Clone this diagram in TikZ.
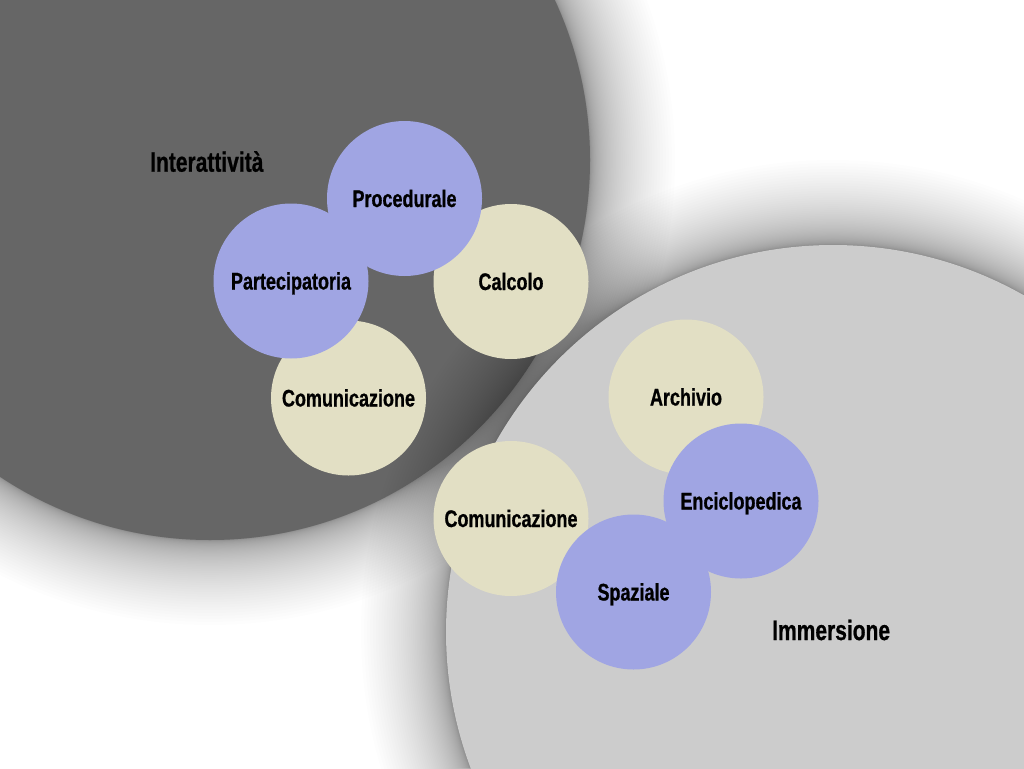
\documentclass[tikz,border=0pt]{standalone}
\usepackage{fontspec}
\setmainfont{Liberation Sans}[FakeStretch=0.76,BoldFeatures={FakeStretch=0.75,FakeBold=0.7}]
\definecolor{darkc}{HTML}{666666}
\definecolor{lightc}{HTML}{CCCCCC}
\definecolor{bluec}{HTML}{A0A5E3}
\definecolor{beigec}{HTML}{E2DFC4}
\tikzset{
  bubble/.style={circle, minimum size=155pt, inner sep=0pt,
    font=\bfseries\fontsize{24}{26}\selectfont, text height=17pt, text depth=0pt},
  bluebub/.style={bubble, fill=bluec},
  beigebub/.style={bubble, fill=beigec},
  heading/.style={font=\bfseries\fontsize{28}{32}\selectfont, anchor=base west, inner sep=0pt},
  shadowring/.style={fill=black, opacity=0.0088}
}
\begin{document}
\begin{tikzpicture}[x=1pt,y=-1pt]
\useasboundingbox (0,0) rectangle (1024,768);
\fill[white] (0,0) rectangle (1024,768);
\begin{scope}
  \clip (0,0) rectangle (1024,768);
  % dark circle with soft shadow
  \foreach \i in {1,...,60} {
    \pgfmathsetmacro{\rr}{380+85*(\i/60)^2.2}
    \fill[shadowring] (210,160) circle[radius=\rr pt];
  }
  \fill[darkc] (210,160) circle[radius=380pt];
  % light circle with soft shadow
  \foreach \i in {1,...,60} {
    \pgfmathsetmacro{\rr}{387+85*(\i/60)^2.2}
    \fill[shadowring] (833,632) circle[radius=\rr pt];
  }
  \fill[lightc] (833,632) circle[radius=387pt];
\end{scope}
% upper group
\node[beigebub] (calc) at (511,281.5) {Calcolo};
\node[bluebub] (proc) at (404.5,198.5) {Procedurale};
\node[beigebub] (com1) at (348.5,398) {Comunicazione};
\node[bluebub] (part) at (291,281) {Partecipatoria};
% lower group
\node[beigebub] (arch) at (686,397) {Archivio};
\node[bluebub] (enc) at (741,501) {Enciclopedica};
\node[beigebub] (com2) at (511,518.5) {Comunicazione};
\node[bluebub] (spaz) at (633.5,592) {Spaziale};
% headings
\node[heading] (inter) at (150,171.7) {Interattività};
\node[heading] (imm) at (772,640) {Immersione};
\end{tikzpicture}
\end{document}
